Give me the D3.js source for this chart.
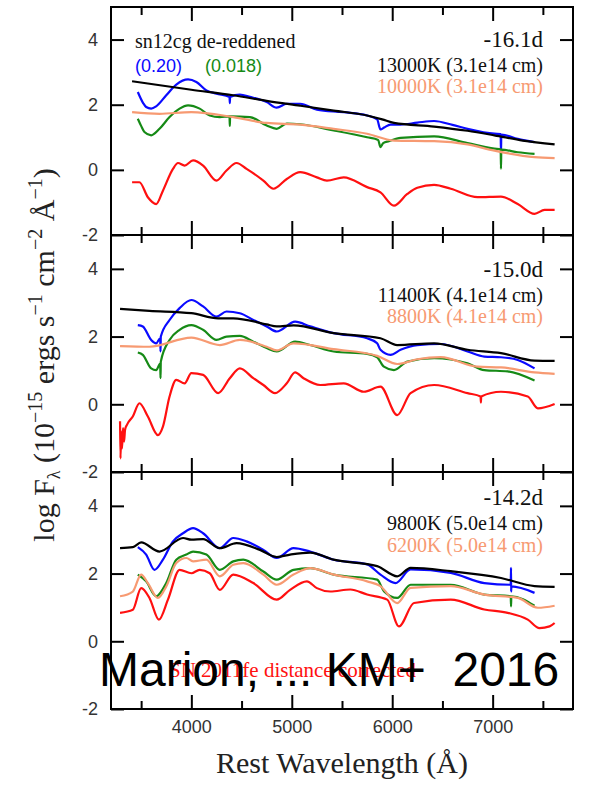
<!DOCTYPE html>
<html>
<head>
<meta charset="utf-8">
<script src="https://cdn.jsdelivr.net/npm/d3@7"></script>
<style>
  body { margin: 0; background: #fff; }
  svg { display: block; }
</style>
</head>
<body>
<svg></svg>
<script>
// epochs and fit labels
let epochs   = ["-16.1d", "-15.0d", "-14.2d"],
    hotFits  = ["13000K (3.1e14 cm)", "11400K (4.1e14 cm)", "9800K (5.0e14 cm)"],
    coolFits = ["10000K (3.1e14 cm)", "8800K (4.1e14 cm)", "6200K (5.0e14 cm)"],
    xMajor   = [4000, 5000, 6000, 7000],
    xMinor   = [3500, 4500, 5500, 6500, 7500],
    yTicks   = [-2, 0, 2, 4];

// [wavelength, log flux]
let blue1 = [[3467,2.39],[3520,2.05],[3550,1.93],[3600,1.88],[3650,1.95],[3750,2.29],[3850,2.62],[3967,2.78],[4050,2.70],[4150,2.44],[4250,2.34],[4380,2.24],[4383,2.05],[4386,2.24],[4483,2.31],[4583,2.24],[4750,2.08],[4850,1.91],[4950,2.03],[5083,2.03],[5250,1.85],[5517,1.77],[5750,1.67],[5850,1.55],[5883,1.24],[5920,1.30],[5983,1.39],[6083,1.39],[6250,1.45],[6417,1.50],[6600,1.38],[6750,1.26],[7017,1.11],[7080,1.10],[7083,0.49],[7086,1.08],[7250,0.95],[7417,0.85]];
let green1 = [[3467,1.57],[3500,1.35],[3533,1.16],[3600,1.06],[3683,1.26],[3783,1.62],[3883,1.88],[3967,1.98],[4083,1.88],[4183,1.67],[4283,1.62],[4380,1.64],[4383,1.35],[4386,1.64],[4583,1.62],[4750,1.36],[4850,1.26],[4950,1.42],[5083,1.40],[5417,1.21],[5750,1.00],[5860,0.92],[5883,0.70],[5910,0.82],[5967,0.88],[6083,0.98],[6417,1.03],[6750,0.82],[7017,0.65],[7080,0.63],[7083,0.03],[7086,0.62],[7250,0.54],[7417,0.49]];
let black1 = [[3410,2.72],[4000,2.46],[4417,2.29],[4750,2.12],[5083,1.97],[5417,1.82],[5750,1.67],[5900,1.55],[6017,1.44],[6417,1.33],[6750,1.20],[7017,1.06],[7300,0.90],[7617,0.78]];
let salmon1 = [[3410,1.77],[3683,1.72],[4000,1.77],[4417,1.62],[4750,1.44],[5083,1.39],[5417,1.26],[5750,1.11],[6017,0.90],[6417,0.88],[6750,0.78],[7017,0.59],[7417,0.39],[7617,0.36]];
let red1 = [[3410,-0.38],[3483,-0.38],[3567,-0.84],[3650,-1.05],[3717,-0.64],[3817,0.03],[3867,0.21],[3933,0.13],[4017,0.29],[4117,0.13],[4250,-0.33],[4350,-0.02],[4450,0.21],[4550,0.03],[4717,-0.33],[4817,-0.58],[4950,-0.28],[5083,-0.07],[5250,-0.23],[5350,-0.33],[5517,-0.23],[5750,-0.53],[5883,-0.69],[6017,-1.10],[6150,-0.74],[6250,-0.55],[6417,-0.46],[6583,-0.58],[6850,-0.84],[7083,-0.82],[7250,-1.05],[7417,-1.35],[7517,-1.23],[7617,-1.23]];

let blue2 = [[3467,2.34],[3517,2.30],[3600,1.90],[3650,1.80],[3690,1.95],[3693,1.56],[3696,2.00],[3783,2.49],[3883,2.84],[4000,3.08],[4117,2.89],[4250,2.59],[4350,2.74],[4483,2.69],[4617,2.49],[4750,2.30],[4850,2.15],[5033,2.44],[5183,2.30],[5417,2.10],[5750,1.95],[5850,1.80],[5883,1.61],[5983,1.46],[6083,1.61],[6250,1.75],[6483,1.78],[6750,1.56],[6917,1.41],[7083,1.39],[7250,1.31],[7417,1.06]];
let green2 = [[3467,1.53],[3517,1.46],[3600,1.06],[3650,1.01],[3690,1.20],[3693,0.77],[3696,1.26],[3783,1.90],[3883,2.20],[4000,2.34],[4117,2.20],[4250,1.90],[4350,2.00],[4483,2.02],[4617,1.85],[4750,1.66],[4850,1.56],[5033,1.85],[5183,1.75],[5417,1.56],[5750,1.49],[5850,1.39],[5917,1.11],[6017,1.01],[6150,1.26],[6417,1.36],[6750,1.21],[6917,1.01],[7150,0.97],[7417,0.70]];
let black2 = [[3290,2.82],[3583,2.76],[4000,2.69],[4267,2.54],[4417,2.54],[4750,2.36],[4850,2.30],[5017,2.33],[5417,2.10],[5883,1.95],[6050,1.75],[6417,1.80],[6750,1.61],[7083,1.51],[7417,1.29],[7617,1.28]];
let salmon2 = [[3290,1.72],[3583,1.70],[4000,1.97],[4283,1.75],[4483,1.90],[4750,1.70],[4850,1.59],[5017,1.80],[5417,1.63],[5850,1.43],[6050,1.19],[6250,1.33],[6483,1.39],[6850,1.11],[7083,1.09],[7417,0.94],[7617,0.90]];
let red2 = [[3290,-0.50],[3295,-1.60],[3300,-0.80],[3310,-1.30],[3320,-0.70],[3330,-1.10],[3340,-0.75],[3360,-0.60],[3417,-0.36],[3483,0.03],[3567,-0.36],[3667,-0.91],[3717,-0.66],[3783,0.23],[3850,0.72],[3933,0.62],[4000,0.92],[4117,0.87],[4267,0.33],[4383,0.77],[4483,1.06],[4617,0.77],[4717,0.57],[4833,0.33],[4950,0.62],[5033,0.94],[5117,0.77],[5283,0.57],[5517,0.62],[5717,0.37],[5883,0.52],[6050,-0.32],[6183,0.33],[6417,0.57],[6750,0.33],[6880,0.23],[6883,0.05],[6886,0.23],[7083,0.37],[7350,0.23],[7450,-0.12],[7617,0.01]];

let blue3 = [[3467,2.78],[3550,2.56],[3633,2.11],[3717,2.41],[3817,2.95],[3917,3.19],[4017,3.34],[4117,3.19],[4283,2.75],[4417,3.05],[4550,2.95],[4717,2.70],[4850,2.46],[5017,2.75],[5183,2.65],[5417,2.41],[5750,2.27],[5883,1.97],[6033,1.72],[6183,2.12],[6583,2.02],[6917,1.72],[7180,1.67],[7183,2.17],[7184,1.47],[7186,1.62],[7417,1.43]];
let green3 = [[3467,1.97],[3550,1.77],[3650,1.33],[3750,1.72],[3850,2.41],[3950,2.56],[4017,2.65],[4150,2.56],[4283,2.11],[4417,2.36],[4517,2.41],[4717,2.06],[4850,1.82],[5017,2.11],[5183,2.16],[5417,1.97],[5850,1.82],[5917,1.48],[6050,1.28],[6183,1.67],[6583,1.67],[6917,1.38],[7180,1.33],[7183,1.03],[7186,1.33],[7417,1.05]];
let black3 = [[3290,2.75],[3417,2.78],[3500,2.92],[3683,2.65],[3917,3.05],[4000,3.00],[4117,3.02],[4283,2.75],[4450,2.90],[4683,2.70],[4850,2.49],[4983,2.56],[5183,2.62],[5417,2.41],[5850,2.22],[6050,1.92],[6183,2.17],[6583,2.07],[7083,1.87],[7417,1.63],[7617,1.61]];
let salmon3 = [[3290,1.33],[3417,1.47],[3500,1.97],[3567,1.72],[3667,1.28],[3750,1.62],[3850,2.31],[3950,2.46],[4017,2.36],[4150,2.41],[4283,1.92],[4417,2.26],[4517,2.31],[4717,1.97],[4850,1.67],[5017,1.97],[5183,2.16],[5417,1.97],[5750,1.77],[5883,1.63],[6050,1.13],[6183,1.58],[6583,1.63],[6917,1.38],[7250,1.28],[7450,0.99],[7617,1.05]];
let red3 = [[3290,0.84],[3417,0.93],[3500,1.57],[3583,1.28],[3677,0.64],[3767,1.23],[3883,2.11],[4000,2.01],[4083,2.11],[4183,2.01],[4283,1.52],[4417,1.97],[4617,1.72],[4850,1.23],[4983,1.52],[5150,1.77],[5250,1.57],[5383,1.47],[5583,1.53],[5750,1.38],[5950,1.23],[6067,0.44],[6217,1.13],[6583,1.23],[6917,0.94],[7150,0.84],[7350,0.64],[7467,0.39],[7567,0.44],[7617,0.54]];

let width = 604, height = 785,
    left = 111, right = 573,
    panelTops = [7, 235, 472], panelBottoms = [235, 472, 709],
    labelBase = [[47, 72, 93], [277, 302, 323], [505, 530, 552]],
    colors = {blue: "#0a0aff", green: "#168a16", black: "#000", salmon: "#f79a72", red: "#ff1010"},
    serif = "'Liberation Serif', 'Times New Roman', serif",
    sans = "'Liberation Sans', Arial, sans-serif";

let panels = [
  {blue: blue1, green: green1, black: black1, salmon: salmon1, red: red1},
  {blue: blue2, green: green2, black: black2, salmon: salmon2, red: red2},
  {blue: blue3, green: green3, black: black3, salmon: salmon3, red: red3}
];

let svg = d3.select("svg").attr("width", width).attr("height", height);

let xScale = d3.scaleLinear().domain([3200, 7800]).range([left, right]);

panels.forEach((p, i) => {
  let top = panelTops[i], bottom = panelBottoms[i],
      yScale = d3.scaleLinear().domain([-2, 5]).range([bottom, top]),
      g = svg.append("g");

  let line = d3.line().x(d => xScale(d[0])).y(d => yScale(d[1])).curve(d3.curveMonotoneX);

  ["blue", "green", "black", "salmon", "red"].forEach(k => {
    g.append("path")
      .datum(p[k])
      .attr("d", line)
      .attr("fill", "none")
      .attr("stroke", colors[k])
      .attr("stroke-width", 2.2)
      .attr("stroke-linejoin", "round");
  });

  // ticks, all pointing inward
  let addX = (vals, size, isTop) => {
    let ax = (isTop ? d3.axisTop(xScale) : d3.axisBottom(xScale))
      .tickValues(vals).tickSize(-size).tickFormat("");
    g.append("g").attr("transform", `translate(0,${isTop ? top : bottom})`).call(ax)
      .call(s => s.select(".domain").remove());
  };
  addX(xMajor, 14, true); addX(xMinor, 8, true);
  addX(xMajor, 14, false); addX(xMinor, 8, false);

  g.append("g").attr("transform", `translate(${left},0)`)
    .call(d3.axisLeft(yScale).tickValues(yTicks).tickSize(-13).tickPadding(13).tickFormat(d => String(d)))
    .call(s => s.select(".domain").remove())
    .call(s => s.selectAll("text").attr("font-family", sans).style("font-size", "18px").attr("fill", "#333"));

  g.append("g").attr("transform", `translate(${right},0)`)
    .call(d3.axisRight(yScale).tickValues(yTicks).tickSize(-13).tickFormat(""))
    .call(s => s.select(".domain").remove());

  g.selectAll(".tick line").attr("stroke", "#000").attr("stroke-width", 2);

  g.append("rect")
    .attr("x", left).attr("y", top)
    .attr("width", right - left).attr("height", bottom - top)
    .attr("fill", "none").attr("stroke", "#000").attr("stroke-width", 2);

  // annotations
  let lb = labelBase[i];
  g.append("text").attr("x", 543).attr("y", lb[0]).text(epochs[i])
    .attr("font-family", serif).style("font-size", "23px").style("text-anchor", "end").attr("fill", "#111");
  g.append("text").attr("x", 543).attr("y", lb[1]).text(hotFits[i])
    .attr("font-family", serif).style("font-size", "20px").style("text-anchor", "end").attr("fill", "#111");
  g.append("text").attr("x", 543).attr("y", lb[2]).text(coolFits[i])
    .attr("font-family", serif).style("font-size", "20px").style("text-anchor", "end").attr("fill", colors.salmon);

  if (i === 2) {
    g.append("g").attr("transform", `translate(0,${bottom})`)
      .call(d3.axisBottom(xScale).tickValues(xMajor).tickSize(0).tickPadding(11).tickFormat(d3.format("d")))
      .call(s => s.select(".domain").remove())
      .call(s => s.selectAll("text").attr("font-family", sans).style("font-size", "18px").attr("fill", "#333"));
  }
});

svg.append("text").attr("x", 135).attr("y", 48).text("sn12cg de-reddened")
  .attr("font-family", serif).style("font-size", "20px").attr("fill", "#111");
svg.append("text").attr("x", 135).attr("y", 72).text("(0.20)")
  .attr("font-family", sans).style("font-size", "18px").attr("fill", colors.blue);
svg.append("text").attr("x", 205).attr("y", 72).text("(0.018)")
  .attr("font-family", sans).style("font-size", "18px").attr("fill", colors.green);

svg.append("text").attr("x", 169).attr("y", 677).text("SN 2011fe distance corrected")
  .attr("font-family", serif).style("font-size", "21px").attr("fill", colors.red);

svg.append("text").attr("x", 99).attr("y", 686).text("Marion, ... KM+  2016")
  .attr("font-family", sans).style("font-size", "48px").attr("fill", "#000")
  .style("white-space", "pre");

svg.append("text").attr("x", (left + right) / 2).attr("y", 773).text("Rest Wavelength (Å)")
  .attr("font-family", serif).style("font-size", "30px").style("text-anchor", "middle").attr("fill", "#222");

// y label with sub/superscripts
let yl = svg.append("text")
  .attr("transform", "translate(54,355) rotate(-90)")
  .attr("font-family", serif).style("font-size", "30px").style("text-anchor", "middle").attr("fill", "#222");
[["log F", 0, 30], ["λ", 6, 18], [" (10", -6, 30], ["−15", -12, 20], [" ergs s", 12, 30], ["−1", -12, 20],
 [" cm", 12, 30], ["−2", -12, 20], [" Å", 12, 30], ["−1", -12, 20], [")", 12, 30]]
  .forEach(t => yl.append("tspan").attr("dy", t[1]).style("font-size", t[2] + "px").text(t[0]));
</script>
</body>
</html>
